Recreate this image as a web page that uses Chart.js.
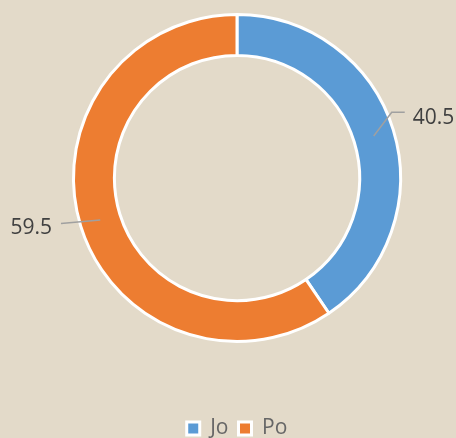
<!DOCTYPE html>
<html>
<head>
<meta charset="utf-8">
<script src="https://cdn.jsdelivr.net/npm/chart.js@4/dist/chart.umd.min.js"></script>
<style>
  html, body { margin: 0; padding: 0; background: #e3dac9; }
  #wrap { width: 456px; height: 438px; position: relative; }
</style>
</head>
<body>
<div id="wrap"><canvas id="c" width="456" height="438"></canvas></div>
<script>
// ---- data ----
const categories = ["Jo", "Po"];
const values = [40.5, 59.5];
const valueLabels = ["40.5", "59.5"];
const colors = ["#5b9bd5", "#ed7d31"];

// ---- leader-label plugin (positions derived from arc geometry) ----
const leaderLabels = {
  id: 'leaderLabels',
  afterDatasetsDraw(chart, args, opts) {
    const ctx = chart.ctx;
    const meta = chart.getDatasetMeta(0);
    meta.data.forEach((arc, i) => {
      const p = arc.getProps(['x', 'y', 'startAngle', 'endAngle', 'innerRadius', 'outerRadius'], true);
      const mid = (p.startAngle + p.endAngle) / 2;
      const rMid = (p.innerRadius + p.outerRadius) / 2;
      const lay = opts.layout[i];
      const p0 = { x: p.x + Math.cos(mid) * rMid, y: p.y + Math.sin(mid) * rMid };
      const a1 = mid + lay.dAngle * Math.PI / 180;
      const r1 = p.outerRadius + lay.dr;
      const p1 = { x: p.x + Math.cos(a1) * r1, y: p.y + Math.sin(a1) * r1 };
      const dir = Math.cos(mid) >= 0 ? 1 : -1;
      const p2 = { x: p1.x + dir * lay.run, y: p1.y };
      ctx.save();
      ctx.strokeStyle = opts.lineColor;
      ctx.lineWidth = opts.lineWidth;
      ctx.beginPath();
      ctx.moveTo(p0.x, p0.y);
      ctx.lineTo(p1.x, p1.y);
      if (lay.run > 0) ctx.lineTo(p2.x, p2.y);
      ctx.stroke();
      ctx.fillStyle = opts.color;
      ctx.font = opts.font;
      ctx.textBaseline = 'middle';
      ctx.textAlign = dir > 0 ? 'left' : 'right';
      ctx.fillText(valueLabels[i], p2.x + dir * lay.gap, p2.y + lay.dy);
      ctx.restore();
    });
  }
};

new Chart(document.getElementById('c'), {
  type: 'doughnut',
  data: {
    labels: categories,
    datasets: [{
      data: values,
      backgroundColor: colors,
      borderColor: '#ffffff',
      borderWidth: 3,
      hoverOffset: 0
    }]
  },
  plugins: [leaderLabels],
  options: {
    responsive: false,
    animation: false,
    cutout: '75%',
    layout: { padding: { top: 13, left: 72, right: 54, bottom: 0 } },
    plugins: {
      tooltip: { enabled: false },
      legend: {
        position: 'bottom',
        maxHeight: 95,
        title: { display: true, text: '', font: { size: 10, lineHeight: 1 }, padding: { top: 55, bottom: 0 } },
        labels: {
          boxWidth: 13,
          boxHeight: 13,
          padding: 10,
          color: '#555555',
          font: { family: 'Open Sans', size: 21 },
          generateLabels(chart) {
            return categories.map((c, i) => ({
              text: c,
              fillStyle: colors[i],
              strokeStyle: '#ffffff',
              lineWidth: 3,
              hidden: false,
              index: i
            }));
          }
        }
      },
      leaderLabels: {
        color: '#404040',
        font: '21px "Open Sans"',
        lineColor: '#a0a0a0',
        lineWidth: 1.5,
        layout: [
          { dAngle: -5.9, dr: 4.6, run: 13, gap: 8, dy: 5.5 },
          { dAngle: 2.6, dr: 18.3, run: 0, gap: 9, dy: 4.5 }
        ]
      }
    }
  }
});
</script>
</body>
</html>
